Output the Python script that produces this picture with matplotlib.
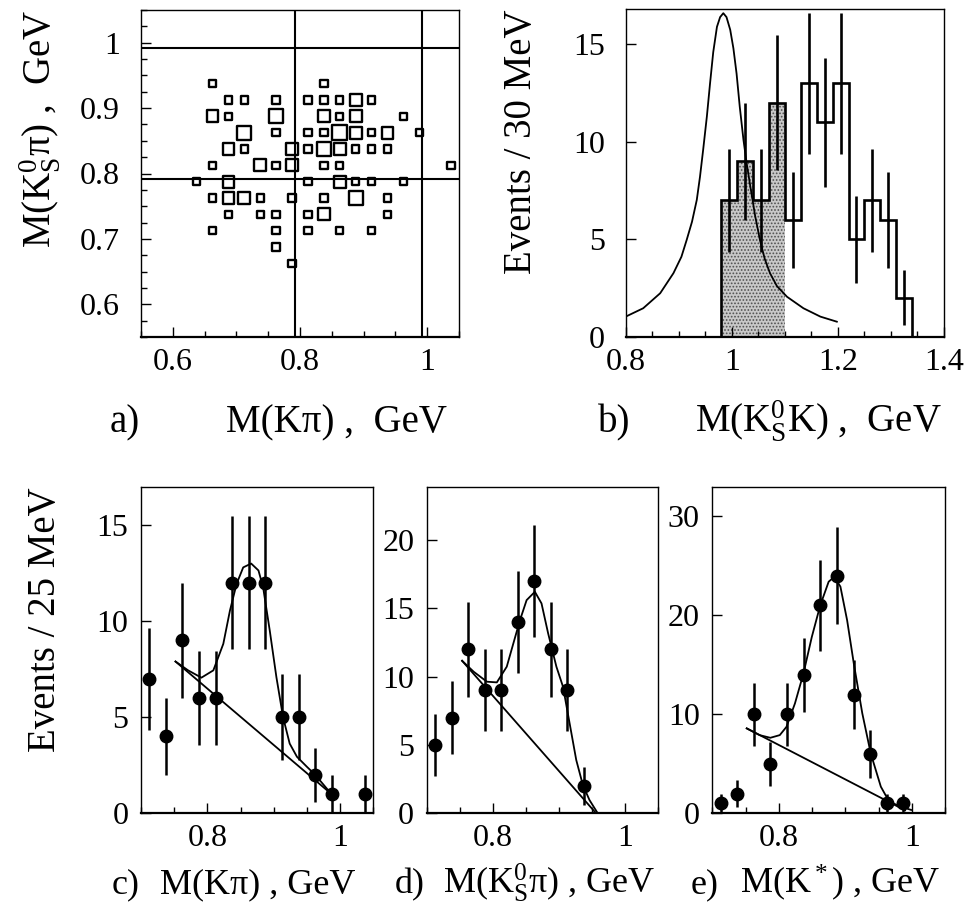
import numpy as np
import matplotlib
matplotlib.use('Agg')
import matplotlib.pyplot as plt
from matplotlib.ticker import MultipleLocator

plt.rcParams['font.family'] = ['Liberation Serif', 'DejaVu Serif']
plt.rcParams['mathtext.fontset'] = 'custom'
plt.rcParams['mathtext.rm'] = 'Liberation Serif'
plt.rcParams['mathtext.it'] = 'Liberation Serif:italic'
plt.rcParams['hatch.linewidth'] = 0.8

# a) 2D distribution M(K pi) vs M(K0s pi), 25 MeV cells, box size ~ entries
box_mkpi = [0.6625, 0.8375,
            0.6875, 0.7125, 0.7625, 0.8125, 0.8375, 0.8625, 0.8875, 0.9125,
            0.6625, 0.6875, 0.7625, 0.8375, 0.8625, 0.8875, 0.9625,
            0.7125, 0.7625, 0.8125, 0.8375, 0.8625, 0.8875, 0.9125, 0.9375, 0.9875,
            0.6875, 0.7125, 0.7875, 0.8125, 0.8375, 0.8625, 0.8875, 0.9125, 0.9375,
            0.6625, 0.7375, 0.7625, 0.7875, 0.8375, 0.8625, 1.0375,
            0.6375, 0.6875, 0.8125, 0.8625, 0.8875, 0.9125, 0.9625,
            0.6625, 0.6875, 0.7125, 0.7375, 0.7875, 0.8375, 0.8875, 0.9375,
            0.6875, 0.7375, 0.7625, 0.8125, 0.8375, 0.9375,
            0.6625, 0.7625, 0.8125, 0.8625, 0.9125,
            0.7625,
            0.7875]
box_mk0pi = ([0.9375] * 2 + [0.9125] * 8 + [0.8875] * 7 + [0.8625] * 9 +
             [0.8375] * 9 + [0.8125] * 7 + [0.7875] * 7 + [0.7625] * 8 +
             [0.7375] * 6 + [0.7125] * 5 + [0.6875] + [0.6625])
box_n = [1, 1,
         1, 1, 1, 1, 1, 1, 2, 1,
         2, 1, 3, 2, 1, 2, 1,
         3, 1, 1, 1, 4, 2, 1, 2, 1,
         2, 1, 2, 1, 3, 2, 1, 1, 1,
         1, 2, 1, 2, 1, 1, 1,
         1, 2, 1, 2, 1, 1, 1,
         1, 2, 2, 1, 1, 1, 3, 1,
         1, 1, 1, 1, 2, 1,
         1, 1, 1, 1, 1,
         1,
         1]
kstar_window = [0.792, 0.992]

# b) M(K0s K) histogram, 30 MeV bins
b_edges = [0.98, 1.01, 1.04, 1.07, 1.10, 1.13, 1.16, 1.19, 1.22, 1.25, 1.28, 1.31, 1.34]
b_counts = [7, 9, 7, 12, 6, 13, 11, 13, 5, 7, 6, 2]
b_err = [2.65, 3.0, 2.65, 3.46, 2.45, 3.61, 3.32, 3.61, 2.24, 2.65, 2.45, 1.41]
b_nshade = 4
bw_x = [0.800, 0.833, 0.865, 0.890, 0.905, 0.915, 0.925, 0.934, 0.940, 0.946, 0.953,
        0.959, 0.965, 0.972, 0.978, 0.984, 0.990, 0.997, 1.003, 1.009, 1.015, 1.022,
        1.028, 1.035, 1.044, 1.053, 1.062, 1.072, 1.085, 1.104, 1.135, 1.167, 1.198]
bw_y = [1.03, 1.46, 2.23, 3.26, 4.1, 4.97, 5.9, 7.02, 8.2, 9.59, 11.3,
        13.0, 14.6, 15.9, 16.4, 16.6, 16.4, 15.75, 14.8, 13.5, 11.8, 10.1,
        8.9, 7.7, 6.2, 4.97, 4.0, 3.26, 2.6, 2.05, 1.46, 1.03, 0.77]

# c) M(K pi)
c_m = [0.7125, 0.7375, 0.7625, 0.7875, 0.8125, 0.8375, 0.8625, 0.8875, 0.9125,
       0.9375, 0.9625, 0.9875, 1.0375]
c_n = [7, 4, 9, 6, 6, 12, 12, 12, 5, 5, 2, 1, 1]
c_err = [2.65, 2.0, 3.0, 2.45, 2.45, 3.46, 3.46, 3.46, 2.24, 2.24, 1.41, 1.0, 1.0]
c_fit_x = [0.752, 0.771, 0.791, 0.809, 0.824, 0.834, 0.844, 0.854, 0.866, 0.877, 0.884,
           0.894, 0.904, 0.914, 0.924, 0.935, 0.950, 0.962, 0.987]
c_fit_y = [7.90, 7.44, 7.06, 7.44, 8.82, 10.55, 11.94, 12.8, 13.0, 12.64, 11.76,
           9.51, 7.09, 5.01, 3.63, 2.94, 2.42, 2.02, 1.0]
c_bg_x = [0.752, 0.987]
c_bg_y = [7.90, 1.0]

# d) M(K0s pi)
d_m = [0.7125, 0.7375, 0.7625, 0.7875, 0.8125, 0.8375, 0.8625, 0.8875, 0.9125, 0.9375]
d_n = [5, 7, 12, 9, 9, 14, 17, 12, 9, 2]
d_err = [2.24, 2.65, 3.46, 3.0, 3.0, 3.74, 4.12, 3.46, 3.0, 1.41]
d_fit_x = [0.7535, 0.771, 0.791, 0.806, 0.821, 0.831, 0.841, 0.851, 0.8635, 0.8735,
           0.8835, 0.896, 0.906, 0.916, 0.926, 0.936, 0.946, 0.9585]
d_fit_y = [11.16, 10.36, 9.63, 9.58, 10.73, 12.44, 14.14, 15.6, 16.21, 15.36,
           13.17, 10.73, 9.26, 6.58, 3.9, 2.07, 0.97, 0.0]
d_bg_x = [0.7535, 0.956]
d_bg_y = [11.16, 0.0]

# e) M(K*) combined
e_m = [0.7125, 0.7375, 0.7625, 0.7875, 0.8125, 0.8375, 0.8625, 0.8875, 0.9125,
       0.9375, 0.9625, 0.9875]
e_n = [1, 2, 10, 5, 10, 14, 21, 24, 12, 6, 1, 1]
e_err = [1.0, 1.41, 3.16, 2.24, 3.16, 3.74, 4.58, 4.9, 3.46, 2.45, 1.0, 1.0]
e_fit_x = [0.7518, 0.7711, 0.7873, 0.8015, 0.8116, 0.8243, 0.837, 0.8496, 0.8623,
           0.875, 0.8836, 0.8927, 0.9028, 0.9129, 0.9256, 0.9383, 0.9535, 0.9661,
           0.9839, 0.9991]
e_fit_y = [8.58, 7.9, 7.63, 7.9, 8.74, 11.1, 14.1, 17.8, 21.0, 23.4, 23.9, 22.9,
           19.5, 15.1, 10.1, 6.05, 2.69, 1.17, 0.67, 0.34]
e_bg_x = [0.7518, 0.99]
e_bg_y = [8.58, 0.3]

W, H = 971, 911
fig = plt.figure(figsize=(W / 100, H / 100), dpi=100)


def box(x0, y0, x1, y1):
    return [x0 / W, 1 - y1 / H, (x1 - x0) / W, (y1 - y0) / H]


TICK = 23


def style(ax, pady):
    for s in ax.spines.values():
        s.set_linewidth(1.0)
    ax.spines['bottom'].set_linewidth(1.6)
    ax.tick_params(which='both', direction='in', top=False, right=False,
                   labelsize=TICK, width=1.0)
    ax.tick_params(which='major', length=7)
    ax.tick_params(which='minor', length=4)
    ax.tick_params(axis='y', pad=pady)
    ax.tick_params(axis='x', pad=8)


# ---- a)
ax = fig.add_axes(box(141, 10, 459, 337))
sq = {1: 28, 2: 72, 3: 100, 4: 124}
ax.scatter(box_mkpi, box_mk0pi, s=[sq[n] for n in box_n], marker='s',
           facecolors='none', edgecolors='black', linewidths=1.7, zorder=3)
for v in kstar_window:
    ax.axvline(v, color='black', lw=1.5)
    ax.axhline(v, color='black', lw=1.5)
ax.set_xlim(0.55, 1.05)
ax.set_ylim(0.55, 1.05)
ax.xaxis.set_minor_locator(MultipleLocator(0.05))
ax.yaxis.set_minor_locator(MultipleLocator(0.025))
ax.set_xticks([0.6, 0.8, 1.0], ['0.6', '0.8', '1'])
ax.set_yticks([0.6, 0.7, 0.8, 0.9, 1.0], ['0.6', '0.7', '0.8', '0.9', '1'])
style(ax, 15)

# ---- b)
ax = fig.add_axes(box(625.7, 9.3, 944, 336.7))
ax.stairs(b_counts[:b_nshade], b_edges[:b_nshade + 1], fill=True,
          facecolor='#c8c8c8', edgecolor='#505050', hatch='.....', lw=0)
ax.stairs(b_counts, b_edges, color='black', lw=1.9)
centres = [(b_edges[i] + b_edges[i + 1]) / 2 for i in range(len(b_counts))]
ax.errorbar(centres, b_counts, yerr=b_err, fmt='none', ecolor='black',
            elinewidth=1.9, capsize=0)
ax.plot(bw_x, bw_y, color='black', lw=1.3)
ax.set_xlim(0.8, 1.4)
ax.set_ylim(0, 16.8)
ax.set_xticks([0.8, 1.0, 1.2, 1.4], ['0.8', '1', '1.2', '1.4'])
ax.xaxis.set_minor_locator(MultipleLocator(0.05))
ax.set_yticks([0, 5, 10, 15])
style(ax, 15)

# ---- c), d), e)
bottom = [
    (box(141, 486.7, 373.3, 813.3), c_m, c_n, c_err, c_fit_x, c_fit_y, c_bg_x, c_bg_y,
     17, [0, 5, 10, 15]),
    (box(426.7, 486.7, 658.3, 813.3), d_m, d_n, d_err, d_fit_x, d_fit_y, d_bg_x, d_bg_y,
     23.9, [0, 5, 10, 15, 20]),
    (box(712.3, 486.7, 945, 813.3), e_m, e_n, e_err, e_fit_x, e_fit_y, e_bg_x, e_bg_y,
     33, [0, 10, 20, 30]),
]
for rect, m, n, err, fx, fy, bx, by, ytop, yt in bottom:
    ax = fig.add_axes(rect)
    ax.errorbar(m, n, yerr=err, fmt='o', color='black', ms=9, elinewidth=1.8,
                capsize=0, zorder=3)
    ax.plot(fx, fy, color='black', lw=1.3)
    ax.plot(bx, by, color='black', lw=1.3)
    ax.set_xlim(0.7, 1.05)
    ax.set_ylim(0, ytop)
    ax.set_xticks([0.8, 1.0], ['0.8', '1'])
    ax.xaxis.set_minor_locator(MultipleLocator(0.05))
    ax.set_yticks(yt)
    style(ax, 9)

# ---- labels
LAB = 28
fig.text(40 / W, 1 - 10 / H, r'M(K$_\mathrm{S}^\mathrm{0}$π) ,  GeV', rotation=90,
         ha='center', va='top', fontsize=LAB)
fig.text(521 / W, 1 - 10 / H, 'Events / 30 MeV', rotation=90,
         ha='center', va='top', fontsize=LAB)
fig.text(46 / W, 1 - 487 / H, 'Events / 25 MeV', rotation=90,
         ha='center', va='top', fontsize=LAB)

fig.text(125 / W, 1 - 432 / H, 'a)', ha='center', va='baseline', fontsize=LAB)
fig.text(447 / W, 1 - 432 / H, 'M(Kπ) ,  GeV', ha='right', va='baseline', fontsize=LAB)
fig.text(614 / W, 1 - 432 / H, 'b)', ha='center', va='baseline', fontsize=LAB)
fig.text(942 / W, 1 - 432 / H, r'M(K$_\mathrm{S}^\mathrm{0}$K) ,  GeV', ha='right',
         va='baseline', fontsize=LAB)

BL = 26
fig.text(126 / W, 1 - 893 / H, 'c)', ha='center', va='baseline', fontsize=BL)
fig.text(160 / W, 1 - 893 / H, 'M(Kπ) , GeV', ha='left', va='baseline', fontsize=BL)
fig.text(410 / W, 1 - 893 / H, 'd)', ha='center', va='baseline', fontsize=BL)
fig.text(443 / W, 1 - 893 / H, r'M(K$_\mathrm{S}^\mathrm{0}$π) , GeV', ha='left',
         va='baseline', fontsize=BL)
fig.text(705 / W, 1 - 893 / H, 'e)', ha='center', va='baseline', fontsize=BL)
fig.text(740 / W, 1 - 893 / H, r'M(K$^*$) , GeV', ha='left', va='baseline', fontsize=BL)

fig.savefig('out.png', dpi=100)
